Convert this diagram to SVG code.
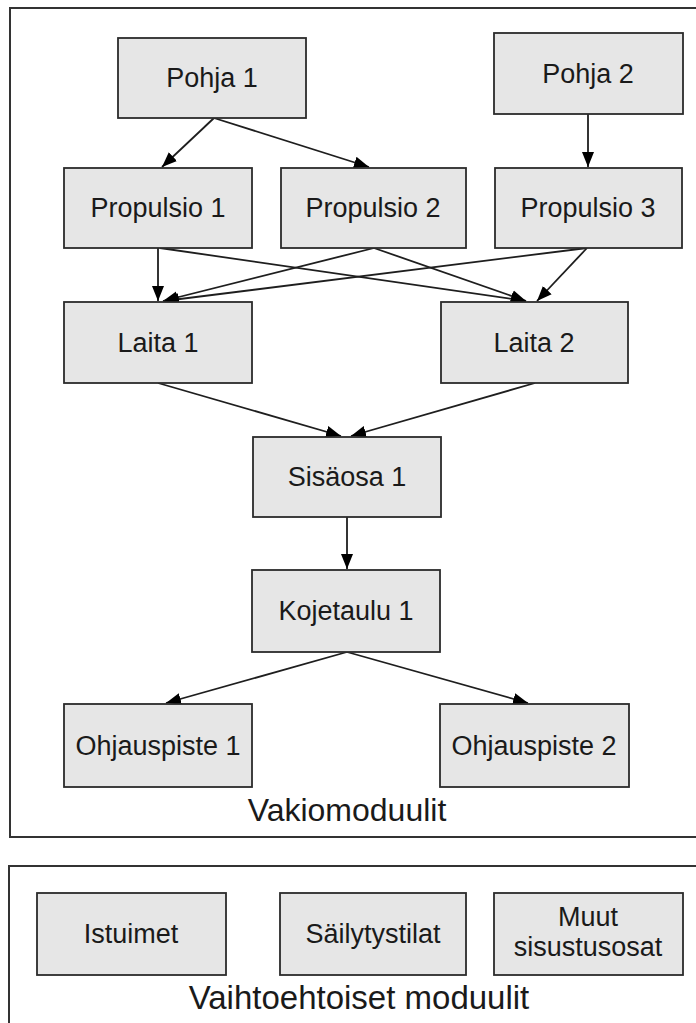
<svg xmlns="http://www.w3.org/2000/svg" width="696" height="1023" viewBox="0 0 696 1023">
<style>
.frame{fill:#fff;stroke:#333;stroke-width:2}
.node rect{fill:#e6e6e6;stroke:#2b2b2b;stroke-width:1.8}
.node text{font-family:"Liberation Sans",Arial,sans-serif;font-size:27px;fill:#1a1a1a;text-anchor:middle}
.title{font-family:"Liberation Sans",Arial,sans-serif;font-size:32px;fill:#1a1a1a;text-anchor:middle}
.edge{stroke:#1e1e1e;stroke-width:1.8;fill:none;marker-end:url(#arr)}
</style>
<defs>
<marker id="arr" markerUnits="userSpaceOnUse" markerWidth="16" markerHeight="14" refX="15" refY="7" orient="auto">
<path d="M0,1 L15,7 L0,13 z" fill="#000"/>
</marker>
</defs>
<rect width="696" height="1023" fill="#fff"/>
<g id="frame-vakio">
<rect class="frame" x="10" y="8" width="700" height="829"/>
<text class="title" x="347" y="821">Vakiomoduulit</text>
</g>
<g id="frame-vaihto">
<rect class="frame" x="9" y="866" width="700" height="170"/>
<text class="title" x="359" y="1009" style="font-size:33px">Vaihtoehtoiset moduulit</text>
</g>
<g id="connectors">
<line class="edge" x1="214" y1="118" x2="162" y2="167"/>
<line class="edge" x1="214" y1="118" x2="369" y2="167"/>
<line class="edge" x1="588" y1="114" x2="588" y2="167"/>
<line class="edge" x1="158" y1="248" x2="158" y2="301"/>
<line class="edge" x1="160" y1="248" x2="526" y2="301"/>
<line class="edge" x1="374" y1="248" x2="163" y2="301"/>
<line class="edge" x1="374" y1="248" x2="526" y2="301"/>
<line class="edge" x1="587" y1="248" x2="164" y2="301"/>
<line class="edge" x1="587" y1="248" x2="537" y2="301"/>
<line class="edge" x1="158" y1="383" x2="341" y2="436"/>
<line class="edge" x1="535" y1="383" x2="351" y2="436"/>
<line class="edge" x1="347" y1="517" x2="347" y2="569"/>
<line class="edge" x1="347" y1="652" x2="166" y2="703"/>
<line class="edge" x1="347" y1="652" x2="528" y2="703"/>
</g>
<g id="pohja1" class="node"><rect x="118" y="38" width="188" height="80"/><text x="212" y="87">Pohja 1</text></g>
<g id="pohja2" class="node"><rect x="494" y="33" width="189" height="81"/><text x="588" y="83">Pohja 2</text></g>
<g id="propulsio1" class="node"><rect x="64" y="168" width="188" height="80"/><text x="158" y="217">Propulsio 1</text></g>
<g id="propulsio2" class="node"><rect x="281" y="168" width="185" height="80"/><text x="373" y="217">Propulsio 2</text></g>
<g id="propulsio3" class="node"><rect x="495" y="168" width="187" height="80"/><text x="588" y="217">Propulsio 3</text></g>
<g id="laita1" class="node"><rect x="64" y="302" width="188" height="81"/><text x="158" y="352">Laita 1</text></g>
<g id="laita2" class="node"><rect x="441" y="302" width="187" height="81"/><text x="534" y="352">Laita 2</text></g>
<g id="sisaosa1" class="node"><rect x="253" y="437" width="188" height="80"/><text x="347" y="486">Sisäosa 1</text></g>
<g id="kojetaulu1" class="node"><rect x="252" y="570" width="188" height="82"/><text x="346" y="620">Kojetaulu 1</text></g>
<g id="ohjauspiste1" class="node"><rect x="64" y="704" width="188" height="83"/><text x="158" y="755">Ohjauspiste 1</text></g>
<g id="ohjauspiste2" class="node"><rect x="440" y="704" width="189" height="83"/><text x="534" y="755">Ohjauspiste 2</text></g>
<g id="istuimet" class="node"><rect x="37" y="893" width="189" height="82"/><text x="131" y="943">Istuimet</text></g>
<g id="sailytystilat" class="node"><rect x="280" y="893" width="186" height="82"/><text x="373" y="943">Säilytystilat</text></g>
<g id="muut" class="node"><rect x="494" y="893" width="189" height="82"/><text x="588" y="926">Muut</text><text x="588" y="956">sisustusosat</text></g>
</svg>
